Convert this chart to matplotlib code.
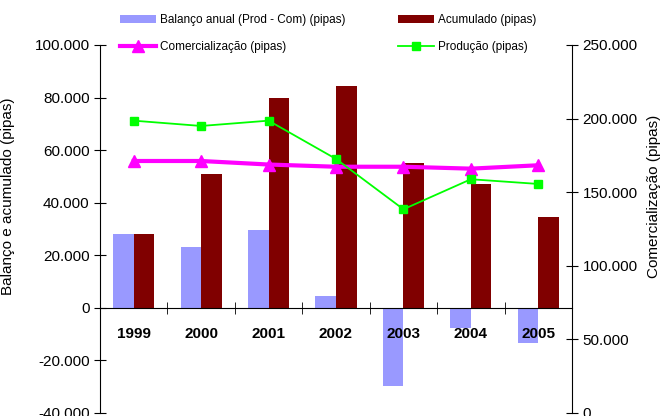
import numpy as np
import matplotlib
matplotlib.use("Agg")
import matplotlib.pyplot as plt
from matplotlib.ticker import FuncFormatter, FixedLocator

plt.rcParams['font.family'] = ['Liberation Sans', 'DejaVu Sans']

anos = ["1999", "2000", "2001", "2002", "2003", "2004", "2005"]
balanco = [28000, 23000, 29500, 4600, -29700, -7800, -13500]
acumulado = [28000, 50800, 79700, 84300, 55200, 47300, 34600]
comercializacao = [171200, 171200, 168800, 167300, 167300, 166000, 168300]
producao = [198600, 195000, 198600, 172600, 138400, 158800, 155600]


def milhar(v, pos):
    # formato portugues: ponto como separador de milhares
    if v == 0:
        return "0"
    return "{:,.0f}".format(v).replace(",", ".")


fig = plt.figure(figsize=(6.62, 4.16), dpi=100)
ax = fig.add_axes([100/662, 3/416, 472/662, 368/416])
ax2 = ax.twinx()

# eixo x no zero (antes de mexer nos ticks, set_position faz reset)
ax.spines["bottom"].set_position(("data", 0))
ax.spines["top"].set_visible(False)
ax.spines["right"].set_visible(False)
ax2.spines["top"].set_visible(False)
ax2.spines["bottom"].set_visible(False)
ax2.spines["left"].set_visible(False)

x = np.arange(len(anos))
w = 0.305
b1 = ax.bar(x - w/2, balanco, w, color="#9999FF", label="Balanço anual (Prod - Com) (pipas)")
b2 = ax.bar(x + w/2, acumulado, w, color="#800000", label="Acumulado (pipas)")

l1, = ax2.plot(x, comercializacao, color="#FF00FF", lw=3, marker="^", ms=8,
               label="Comercialização (pipas)")
l2, = ax2.plot(x, producao, color="#00FF00", lw=1.3, marker="s", ms=6,
               label="Produção (pipas)")

ax.set_xlim(-0.5, 6.5)
ax.set_ylim(-40000, 100000)
ax.set_yticks(np.arange(-40000, 100001, 20000))
ax.yaxis.set_major_formatter(FuncFormatter(milhar))
ax2.set_ylim(0, 250000)
ax2.set_yticks(np.arange(0, 250001, 50000))
ax2.yaxis.set_major_formatter(FuncFormatter(milhar))

ax.set_xticks(x)
ax.xaxis.set_minor_locator(FixedLocator(np.arange(0.5, 6, 1)))
ax.tick_params(axis="x", which="major", length=0, pad=14)
ax.tick_params(axis="x", which="minor", direction="inout", length=8)
ax.tick_params(axis="y", direction="inout", length=8, labelsize=11)
ax2.tick_params(axis="y", direction="inout", length=8, labelsize=11)
ax.set_xticklabels(anos, fontsize=11, fontweight="bold")

ax.set_ylabel("Balanço e acumulado (pipas)", fontsize=11)
ax.yaxis.set_label_coords(-0.18, 0.59)
ax2.set_ylabel("Comercialização (pipas)", fontsize=11)
ax2.yaxis.set_label_coords(1.158, 0.59)

fig.legend([b1, l1, b2, l2],
           [b1.get_label(), l1.get_label(), b2.get_label(), l2.get_label()],
           ncol=2, loc="upper left", bbox_to_anchor=(112/662, 1 - 6/416),
           frameon=False, fontsize=8.5, labelspacing=1.25,
           columnspacing=4.5, handlelength=3.0, handletextpad=0.35,
           borderaxespad=0.3)

plt.savefig("out.png", dpi=100)
